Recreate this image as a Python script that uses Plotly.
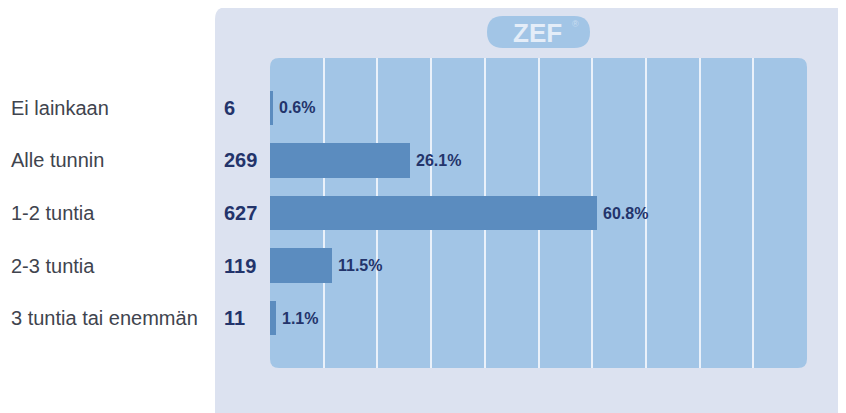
import plotly.graph_objects as go

categories = ['Ei lainkaan', 'Alle tunnin', '1-2 tuntia', '2-3 tuntia', '3 tuntia tai enemmän']
counts = [6, 269, 627, 119, 11]
percents = [0.6, 26.1, 60.8, 11.5, 1.1]

W, H = 846, 413
OFF = 8  # page body margin in the browser


def px(x):
    return (x - OFF) / W


def py(y):
    return 1 - (y - OFF) / H


def rounded(x0, y0, x1, y1, r):
    # rounded rectangle in pixel coordinates -> paper path
    def p(x, y):
        return f'{px(x):.5f},{py(y):.5f}'
    return (f'M {p(x0 + r, y0)} L {p(x1 - r, y0)} Q {p(x1, y0)} {p(x1, y0 + r)} '
            f'L {p(x1, y1 - r)} Q {p(x1, y1)} {p(x1 - r, y1)} '
            f'L {p(x0 + r, y1)} Q {p(x0, y1)} {p(x0, y1 - r)} '
            f'L {p(x0, y0 + r)} Q {p(x0, y0)} {p(x0 + r, y0)} Z')


fig = go.Figure()

fig.add_trace(go.Bar(
    x=percents,
    y=categories,
    orientation='h',
    width=0.65,
    marker=dict(color='#5b8cbf', line=dict(width=0)),
    hoverinfo='skip',
))

annotations = []
for c, n, p in zip(categories, counts, percents):
    annotations.append(dict(
        x=px(9), y=c, xref='paper', yref='y', text=c, showarrow=False,
        xanchor='left', font=dict(family='Liberation Sans, Arial', size=20, color='#40444e')))
    annotations.append(dict(
        x=px(222), y=c, xref='paper', yref='y', text=f'<b>{n}</b>', showarrow=False,
        xanchor='left', font=dict(family='Liberation Sans, Arial', size=20, color='#23346b')))
    annotations.append(dict(
        x=p, y=c, xref='x', yref='y', text=f'<b>{p:.1f}%</b>', showarrow=False,
        xanchor='left', xshift=4, font=dict(family='Liberation Sans, Arial', size=16, color='#23346b')))

annotations.append(dict(
    x=px(537), y=py(33), xref='paper', yref='paper', text='<b>ZEF</b>',
    showarrow=False, xanchor='center', yanchor='middle',
    font=dict(family='Liberation Sans, Arial', size=26, color='#e4edf8')))
annotations.append(dict(
    x=px(575), y=py(24), xref='paper', yref='paper', text='®',
    showarrow=False, xanchor='center', yanchor='middle',
    font=dict(family='Liberation Sans, Arial', size=9, color='#c8ddf1')))

shapes = [
    dict(type='path', path=rounded(215, 7, 870, 440, 12), xref='paper', yref='paper',
         fillcolor='#dce2f0', line=dict(width=0), layer='below'),
    dict(type='path', path=rounded(270, 58, 807, 368, 9), xref='paper', yref='paper',
         fillcolor='#a2c5e6', line=dict(width=0), layer='below'),
    dict(type='path', path=rounded(487, 16, 590, 48, 16), xref='paper', yref='paper',
         fillcolor='#a2c5e6', line=dict(width=0), layer='below'),
]

fig.update_layout(
    width=W, height=H,
    margin=dict(l=0, r=0, t=0, b=0),
    paper_bgcolor='white',
    plot_bgcolor='rgba(0,0,0,0)',
    showlegend=False,
    bargap=0,
    xaxis=dict(domain=[px(270), px(807)], range=[0, 100], tickvals=list(range(10, 100, 10)),
               showticklabels=False, showgrid=True, gridcolor='#eaf1fa', gridwidth=2,
               zeroline=False, showline=False, fixedrange=True),
    yaxis=dict(domain=[py(368), py(58)], range=[4.952, -0.952], showticklabels=False,
               showgrid=False, zeroline=False, showline=False, fixedrange=True),
    shapes=shapes,
    annotations=annotations,
)

fig.write_html('out.html')
